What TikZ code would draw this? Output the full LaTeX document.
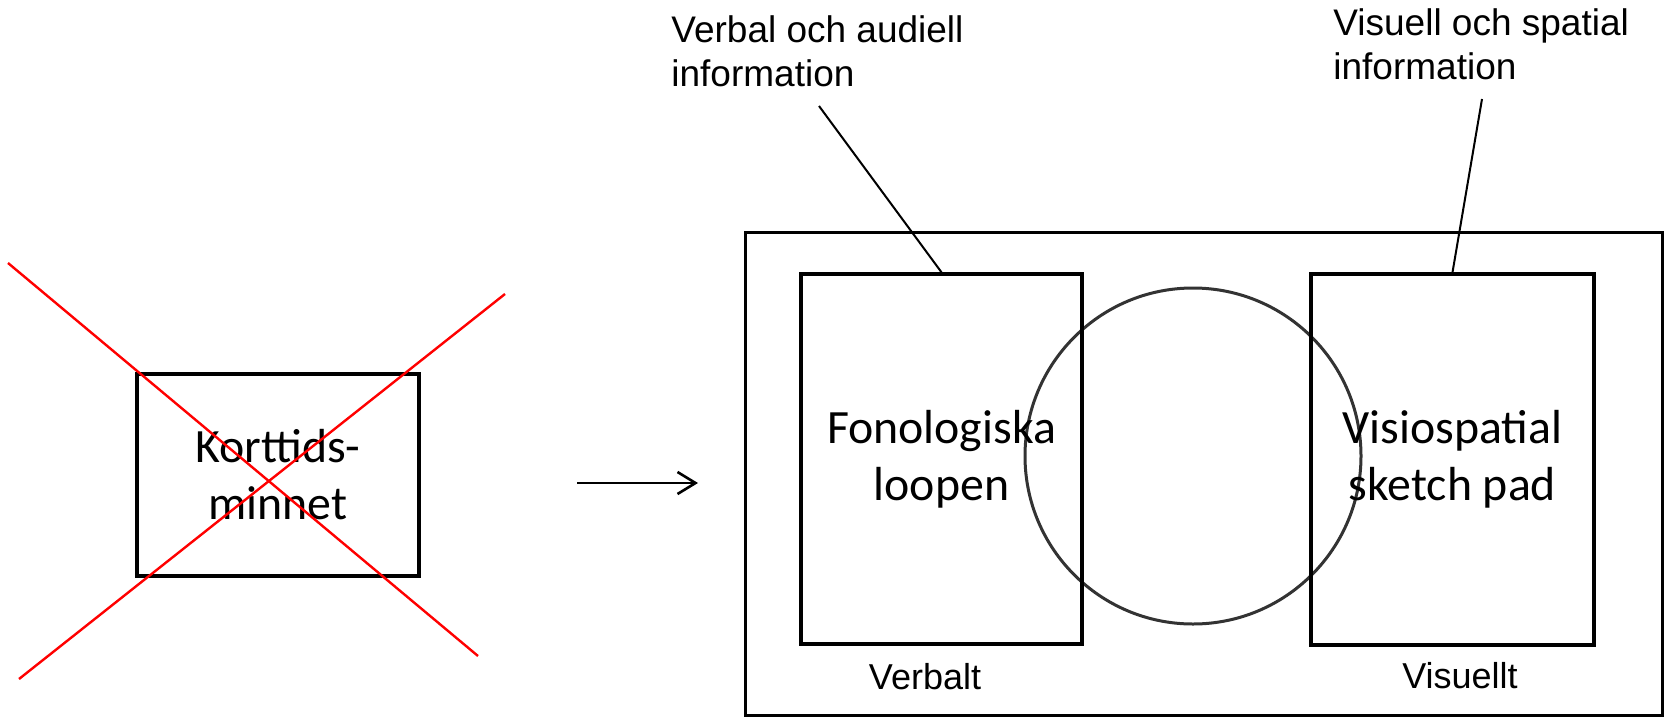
\documentclass[tikz,border=0pt]{standalone}
\usepackage{fontspec}
\newfontfamily\boxfont{Carlito}
\newfontfamily\labelfont{Liberation Sans}
\usetikzlibrary{arrows.meta}

\tikzset{
  membox/.style={draw=black, line width=1.7pt, rectangle, inner sep=0pt,
    align=center, font=\boxfont\fontsize{23.9pt}{28.5pt}\selectfont},
  infolabel/.style={inner sep=0pt, align=left, anchor=base west,
    font=\labelfont\fontsize{18.5pt}{22pt}\selectfont},
  sidelabel/.style={inner sep=0pt, anchor=base,
    font=\labelfont\fontsize{18pt}{21pt}\selectfont},
  leader/.style={draw=black, line width=1pt},
  crossout/.style={draw=red, line width=1.2pt},
}

\begin{document}
\begin{tikzpicture}[x=0.5pt, y=-0.5pt]
  \useasboundingbox (0,0) rectangle (1664,718);

  % outer frame around the working-memory components
  \draw[line width=1.5pt] (745,232) rectangle (1662,715);

  % short-term memory box, crossed out
  \node[membox, minimum width=141pt, minimum height=101pt] (ktm) at (278,475)
    {Korttids-\\minnet};
  \coordinate (xa1) at (8,263);
  \coordinate (xa2) at (478,656);
  \coordinate (xb1) at (505,294);
  \coordinate (xb2) at (19,679);
  \draw[crossout] (xa1) -- (xa2);
  \draw[crossout] (xb1) -- (xb2);

  % arrow towards the new model
  \coordinate (arrS) at (577,483);
  \coordinate (arrE) at (698,483);
  \draw[line width=1.3pt, -{Straight Barb[length=9pt,width=11pt]}] (arrS) -- (arrE);

  % central circle
  \node[draw=black!80, line width=1.5pt, circle, minimum size=168pt, inner sep=0pt]
    (central) at (1193,456) {};

  % the two subsystems
  \node[membox, minimum width=140.5pt, minimum height=185pt] (fon) at (941.5,459)
    {Fonologiska\\loopen};
  \node[membox, minimum width=141.5pt, minimum height=185.5pt] (vis) at (1452.5,459.5)
    {Visiospatial\\sketch pad};

  % labels above (base anchor sits on the last line), with leader lines
  \node[infolabel] (verbinfo) at (671,86) {Verbal och audiell\\information};
  \node[infolabel] (visinfo) at (1333,79) {Visuell och spatial\\information};
  \coordinate (verbtip) at (819,106);
  \coordinate (vistip) at (1482,99);
  \draw[leader] (verbtip) -- (fon.north);
  \draw[leader] (vistip) -- (vis.north);

  % labels below the subsystems
  \node[sidelabel] (verbalt) at (925,689) {Verbalt};
  \node[sidelabel] (visuellt) at (1460,688) {Visuellt};
\end{tikzpicture}
\end{document}
